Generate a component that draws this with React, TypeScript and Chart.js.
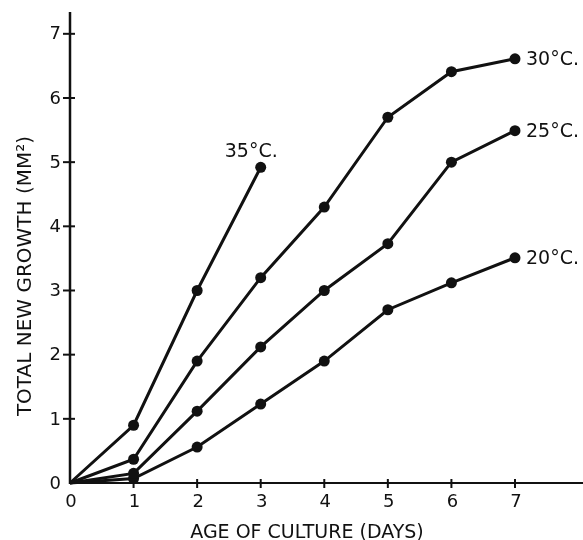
import React, { useEffect, useRef } from 'react';
import { Chart, registerables } from 'chart.js';
Chart.register(...registerables);

const days = [0, 1, 2, 3, 4, 5, 6, 7];
const seriesLabels = ['35°C.', '30°C.', '25°C.', '20°C.'];
const growth35 = [0, 0.9, 3.0, 4.92];
const growth30 = [0, 0.37, 1.9, 3.2, 4.3, 5.7, 6.41, 6.61];
const growth25 = [0, 0.15, 1.12, 2.12, 3.0, 3.73, 5.0, 5.49];
const growth20 = [0, 0.07, 0.56, 1.23, 1.9, 2.7, 3.12, 3.51];
const xTicks = [0, 1, 2, 3, 4, 5, 6, 7];
const yTicks = [0, 1, 2, 3, 4, 5, 6, 7];
const xTitle = 'AGE OF CULTURE (DAYS)';
const yTitle = 'TOTAL NEW GROWTH (MM²)';

const INK = '#111';
const FONT = '"DejaVu Sans", sans-serif';

const allSeries = [growth35, growth30, growth25, growth20];

const axesPlugin = {
  id: 'handAxes',
  beforeDatasetsDraw(chart: any) {
    const { ctx, chartArea, scales } = chart;
    const xs = scales.x;
    const ys = scales.y;
    const x0 = xs.getPixelForValue(0);
    const y0 = ys.getPixelForValue(0);
    ctx.save();
    ctx.strokeStyle = INK;
    ctx.lineCap = 'butt';
    // y axis
    ctx.lineWidth = 2.5;
    ctx.beginPath();
    ctx.moveTo(x0, chartArea.top);
    ctx.lineTo(x0, y0 + 1);
    ctx.stroke();
    // x axis
    ctx.lineWidth = 2;
    ctx.beginPath();
    ctx.moveTo(x0 - 1, y0);
    ctx.lineTo(chart.width, y0);
    ctx.stroke();
    // y ticks
    ctx.lineWidth = 2;
    ctx.fillStyle = INK;
    ctx.font = `18px ${FONT}`;
    ctx.textAlign = 'right';
    ctx.textBaseline = 'middle';
    yTicks.forEach((v) => {
      const py = ys.getPixelForValue(v);
      if (v > 0) {
        ctx.beginPath();
        ctx.moveTo(x0 - 7, py);
        ctx.lineTo(x0 + 5, py);
        ctx.stroke();
      }
      ctx.fillText(String(v), x0 - 9, py + 1);
    });
    // x ticks
    ctx.textAlign = 'center';
    ctx.textBaseline = 'middle';
    xTicks.forEach((v) => {
      const px = xs.getPixelForValue(v);
      if (v > 0) {
        ctx.beginPath();
        ctx.moveTo(px, y0 - 4);
        ctx.lineTo(px, y0 + 5);
        ctx.stroke();
      }
      ctx.fillText(String(v), px + 1, y0 + 19);
    });
    // x title
    ctx.font = `19px ${FONT}`;
    ctx.textBaseline = 'alphabetic';
    ctx.fillText(xTitle, 307, 538);
    // y title
    ctx.save();
    ctx.translate(31, 276);
    ctx.rotate(-Math.PI / 2);
    ctx.font = `20px ${FONT}`;
    ctx.textAlign = 'center';
    ctx.textBaseline = 'alphabetic';
    ctx.fillText(yTitle, 0, 0);
    ctx.restore();
    ctx.restore();
  },
  afterDatasetsDraw(chart: any) {
    const { ctx, scales } = chart;
    ctx.save();
    ctx.fillStyle = INK;
    ctx.font = `19px ${FONT}`;
    allSeries.forEach((vals, i) => {
      const last = vals.length - 1;
      const px = scales.x.getPixelForValue(days[last]);
      const py = scales.y.getPixelForValue(vals[last]);
      if (i === 0) {
        ctx.textAlign = 'left';
        ctx.textBaseline = 'alphabetic';
        ctx.fillText(seriesLabels[i], px - 36, py - 10);
      } else {
        ctx.textAlign = 'left';
        ctx.textBaseline = 'middle';
        ctx.fillText(seriesLabels[i], px + 11, py + 1);
      }
    });
    ctx.restore();
  },
};

export default function App() {
  const ref = useRef<HTMLCanvasElement>(null);
  useEffect(() => {
    if (!ref.current) return;
    const datasets = allSeries.map((vals, i) => ({
      label: seriesLabels[i],
      data: vals.map((v, j) => ({ x: days[j], y: v })),
      borderColor: INK,
      backgroundColor: INK,
      borderWidth: 3,
      pointRadius: vals.map((_, j) => (j === 0 ? 0 : 5.5)),
      pointBorderWidth: 0,
      pointBackgroundColor: INK,
      tension: 0,
      clip: false as any,
    }));
    const chart = new Chart(ref.current, {
      type: 'line',
      data: { datasets },
      options: {
        animation: false,
        responsive: true,
        maintainAspectRatio: false,
        layout: { autoPadding: false, padding: { left: 70, top: 12, right: 0, bottom: 57 } },
        plugins: { legend: { display: false }, tooltip: { enabled: false }, title: { display: false } },
        scales: {
          x: { type: 'linear', min: 0, max: 8.07, display: false },
          y: { type: 'linear', min: 0, max: 7.34, display: false },
        },
      },
      plugins: [axesPlugin],
    });
    return () => chart.destroy();
  }, []);
  return (
    <div style={{ position: 'absolute', left: 0, top: 0, width: 583, height: 540, background: '#fff' }}>
      <canvas ref={ref} />
    </div>
  );
}
